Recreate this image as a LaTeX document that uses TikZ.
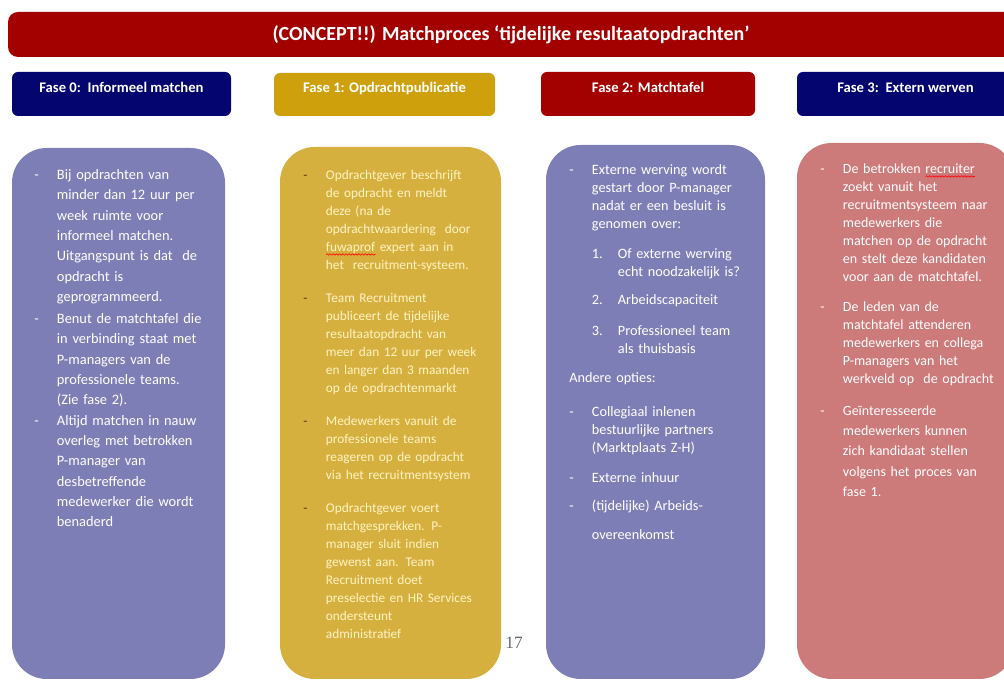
\documentclass[tikz,border=0pt]{standalone}
\usepackage{fontspec}
\setmainfont{Carlito}
\newfontfamily\pagefont{Liberation Serif}
\usetikzlibrary{positioning,decorations.pathmorphing}

\definecolor{titlered}{RGB}{163,0,0}
\definecolor{phasenavy}{RGB}{5,5,112}
\definecolor{phasegold}{RGB}{205,160,12}
\definecolor{colpurple}{RGB}{126,126,182}
\definecolor{colgold}{RGB}{214,176,62}
\definecolor{colrose}{RGB}{205,122,123}
\definecolor{goldtext}{RGB}{255,243,195}
\definecolor{golddash}{RGB}{80,50,10}
\colorlet{dashc}{white}

% bullet lists with fixed line breaks
\newlength\bulind \setlength\bulind{17pt}
\newlength\numind \setlength\numind{19.5pt}
\newcommand\bul[1]{\par\noindent\makebox[\bulind][l]{\textcolor{dashc}{-}}%
    \parbox[t]{135pt}{#1\par\xdef\lastdp{\the\prevdepth}}\par\prevdepth=\lastdp\relax}
\newcommand\numitem[2]{\par\noindent\hspace*{\bulind}\makebox[\numind][l]{#1}%
    \parbox[t]{115pt}{#2\par\xdef\lastdp{\the\prevdepth}}\par\prevdepth=\lastdp\relax}
\newcommand\gap[1]{\vspace{#1}}
% red spell-check wave under a word
\newsavebox\typobox
\newcommand\typo[1]{\sbox\typobox{#1}\usebox\typobox\tikz[overlay]\draw[red, line width=0.45pt, decorate,
    decoration={snake, amplitude=0.55pt, segment length=2.4pt}] (-\wd\typobox,-2.4pt) -- (0pt,-2.4pt);}

\begin{document}
\begin{tikzpicture}[x=0.75pt,y=-0.75pt]
\tikzset{
    titlebar/.style={rectangle, rounded corners=7.5pt, fill=titlered, text=white, font=\bfseries\fontsize{15}{18}\selectfont},
    phase/.style={rectangle, rounded corners=4.5pt, minimum height=33pt},
    phaselabel/.style={inner sep=0pt, text=white, font=\bfseries\fontsize{11}{13}\selectfont},
    column/.style={rectangle, rounded corners=26pt},
    coltext/.style={anchor=north west, inner sep=0pt, text width=160pt, align=left, text=white}
}
\useasboundingbox (0,0) rectangle (1004,680);

\node[titlebar, minimum width=754.5pt, minimum height=33.75pt] (title) at (511,34.5)
    {(CONCEPT!!) Matchproces ‘tijdelijke resultaatopdrachten’};

% phase headers
\node[phase, fill=phasenavy, minimum width=164.25pt] (fase0) at (121.5,94) {};
\node[phase, fill=phasegold, minimum width=165.75pt, minimum height=32.25pt] (fase1) at (384.5,94.5) {};
\node[phase, fill=titlered, minimum width=160.5pt] (fase2) at (648,94) {};
\node[phase, fill=phasenavy, minimum width=162.75pt] (fase3) at (905.5,94) {};
\node[phaselabel] (lbl0) at ([yshift=-12pt]fase0.north) {Fase 0:\ \ Informeel matchen};
\node[phaselabel] (lbl1) at ([yshift=-12pt]fase1.north) {Fase 1: Opdrachtpublicatie};
\node[phaselabel] (lbl2) at ([yshift=-12pt]fase2.north) {Fase 2: Matchtafel};
\node[phaselabel] (lbl3) at ([yshift=-12pt]fase3.north) {Fase 3:\ \ Extern werven};

% columns
\node[column, fill=colpurple, minimum width=159.75pt, minimum height=398.25pt] (col0) at (118.5,413.5) {};
\node[column, fill=colgold, minimum width=165.75pt, minimum height=399pt] (col1) at (390.5,413) {};
\node[column, fill=colpurple, minimum width=164.25pt, minimum height=400.5pt] (col2) at (655.5,412) {};
\node[column, fill=colrose, minimum width=162.75pt, minimum height=402pt] (col3) at (905.5,411) {};

\node[coltext, font=\fontsize{10.8}{15.26}\selectfont] (txt0) at (34,159) {%
\bul{Bij opdrachten van\\minder dan 12 uur per\\week ruimte voor\\informeel matchen.\\Uitgangspunt is dat\ \ de\\opdracht is\\geprogrammeerd.}
\gap{1pt}
\bul{Benut de matchtafel die\\in verbinding staat met\\P-managers van de\\professionele teams.\\(Zie fase 2).}
\bul{Altijd matchen in nauw\\overleg met betrokken\\P-manager van\\desbetreffende\\medewerker die wordt\\benaderd}};

\node[coltext, text=goldtext, font=\fontsize{10}{13.5}\selectfont] (txt1) at (303,161) {%
\colorlet{dashc}{golddash}%
\bul{Opdrachtgever beschrijft\\de opdracht en meldt\\deze (na de\\opdrachtwaardering\ \ door\\\typo{fuwaprof} expert aan in\\het\ \ recruitment-systeem.}
\gap{11.25pt}
\bul{Team Recruitment\\publiceert de tijdelijke\\resultaatopdracht van\\meer dan 12 uur per week\\en langer dan 3 maanden\\op de opdrachtenmarkt}
\gap{11.25pt}
\bul{Medewerkers vanuit de\\professionele teams\\reageren op de opdracht\\via het recruitmentsystem}
\gap{11.25pt}
\bul{Opdrachtgever voert\\matchgesprekken. P-\\manager sluit indien\\gewenst aan. Team\\Recruitment doet\\preselectie en HR Services\\ondersteunt\\administratief}};

\node[coltext, font=\fontsize{10.7}{13.5}\selectfont] (txt2) at (569,156) {%
\bul{Externe werving wordt\\gestart door P-manager\\nadat er een besluit is\\genomen over:}
\gap{9pt}
\numitem{1.}{Of externe werving\\echt noodzakelijk is?}
\gap{8pt}
\numitem{2.}{Arbeidscapaciteit}
\gap{9.75pt}
\numitem{3.}{Professioneel team\\als thuisbasis}
\gap{8.25pt}
\noindent Andere opties:\par
\gap{12pt}
\bul{Collegiaal inlenen\\bestuurlijke partners\\(Marktplaats Z-H)}
\gap{9pt}
\bul{Externe inhuur}
\gap{7.5pt}
\bul{(tijdelijke) Arbeids-}
\gap{8.25pt}
\noindent\hspace*{\bulind}overeenkomst\par};

\node[coltext, font=\fontsize{10.5}{13.5}\selectfont] (txt3) at (820,155) {%
\bul{De betrokken \typo{recruiter}\\zoekt vanuit het\\recruitmentsysteem naar\\medewerkers die\\matchen op de opdracht\\en stelt deze kandidaten\\voor aan de matchtafel.}
\gap{9pt}
\bul{De leden van de\\matchtafel attenderen\\medewerkers en collega\\P-managers van het\\werkveld op\ \ de opdracht}
\gap{8.8pt}
{\fontsize{10.5}{15.2}\selectfont
\bul{Geïnteresseerde\\medewerkers kunnen\\zich kandidaat stellen\\volgens het proces van\\fase 1.}}};

\node[text=black!60, font=\pagefont\fontsize{13}{15}\selectfont] (pnum) at (514,643) {17};
\end{tikzpicture}
\end{document}
